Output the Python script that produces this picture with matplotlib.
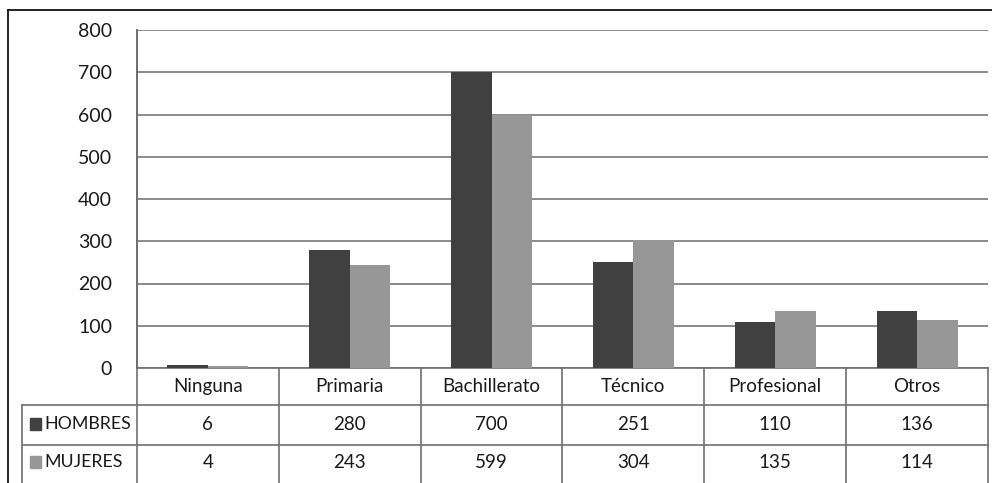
import matplotlib
matplotlib.use("Agg")
import matplotlib.pyplot as plt
from matplotlib.transforms import blended_transform_factory
from matplotlib.lines import Line2D

categories = ["Ninguna", "Primaria", "Bachillerato", "Técnico", "Profesional", "Otros"]
hombres = [6, 280, 700, 251, 110, 136]
mujeres = [4, 243, 599, 304, 135, 114]
series_names = ["HOMBRES", "MUJERES"]
yticks = [0, 100, 200, 300, 400, 500, 600, 700, 800]

W, H = 992, 483
plt.rcParams['font.family'] = ['Lato', 'DejaVu Sans']
fig = plt.figure(figsize=(W / 100, H / 100), dpi=100)
fig.patch.set_facecolor("white")

def fy(y):
    return 1 - y / H

def fx(x):
    return x / W

ax = fig.add_axes([fx(137), fy(368), fx(988) - fx(137), fy(30) - fy(368)])
dark = "#404040"
light = "#979797"
grid_c = "#8a8a8a"
line_c = "#6e6e6e"
txt_c = "#1a1a1a"

n = len(categories)
xs = list(range(n))
bw = 0.285
ax.bar([x - bw / 2 for x in xs], hombres, width=bw, color=dark, zorder=3)
ax.bar([x + bw / 2 for x in xs], mujeres, width=bw, color=light, zorder=3)
ax.set_xlim(-0.5, n - 0.5)
ax.set_ylim(0, 800)
ax.set_yticks(yticks)
ax.set_yticklabels([str(v) for v in yticks], fontsize=14, color=txt_c)
ax.set_xticks([])
ax.tick_params(axis="y", length=0, pad=18)
ax.yaxis.grid(True, color=grid_c, linewidth=1.4, zorder=0)
for s in ["top", "right", "bottom"]:
    ax.spines[s].set_visible(False)
ax.spines["left"].set_color(line_c)
ax.spines["left"].set_linewidth(1.4)

# Data table below
tr = blended_transform_factory(ax.transData, fig.transFigure)
lw = 1.2
ax.add_line(Line2D([-0.5, n - 0.5], [fy(368), fy(368)], color=line_c, lw=lw, transform=tr, clip_on=False))
for yy in [405, 445]:
    fig.add_artist(Line2D([fx(22), fx(988)], [fy(yy), fy(yy)], color=line_c, lw=lw, transform=fig.transFigure))
for i in range(n + 1):
    xb = i - 0.5
    ax.add_line(Line2D([xb, xb], [fy(368), fy(H + 2)], color=line_c, lw=lw, transform=tr, clip_on=False))
fig.add_artist(Line2D([fx(22), fx(22)], [fy(405), fy(H + 2)], color=line_c, lw=lw, transform=fig.transFigure))

tfs = 13.5
for i, c in enumerate(categories):
    ax.text(i, fy(386.5), c, transform=tr, ha="center", va="center", fontsize=tfs, color=txt_c, clip_on=False)
    ax.text(i, fy(425), str(hombres[i]), transform=tr, ha="center", va="center", fontsize=tfs, color=txt_c, clip_on=False)
    ax.text(i, fy(462), str(mujeres[i]), transform=tr, ha="center", va="center", fontsize=tfs, color=txt_c, clip_on=False)

# row headers with legend keys
for name, col, yy in [(series_names[0], dark, 424), (series_names[1], light, 462)]:
    fig.patches.append(plt.Rectangle((fx(30), fy(yy + 6)), fx(11), (12 / H), color=col, transform=fig.transFigure))
    fig.text(fx(44), fy(yy), name, ha="left", va="center", fontsize=12.8, color=txt_c)

# outer border
fig.add_artist(Line2D([fx(8), fx(8)], [fy(10), fy(H + 2)], color="#111111", lw=1.3, transform=fig.transFigure))
fig.add_artist(Line2D([fx(8), fx(W + 2)], [fy(10), fy(10)], color="#111111", lw=1.3, transform=fig.transFigure))

fig.savefig("out.png", dpi=100, facecolor="white")
